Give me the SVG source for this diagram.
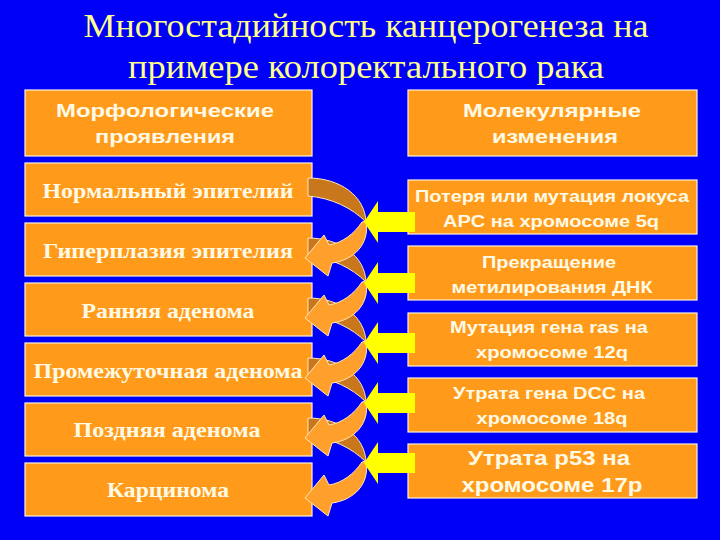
<svg xmlns="http://www.w3.org/2000/svg" width="720" height="540" viewBox="0 0 720 540">
<style>
.bg{fill:#0000F8}
.box{fill:#FF9A1A;stroke:#FFF2D6;stroke-width:1.2}
.title{font-family:"Liberation Serif","Times New Roman",serif;font-size:34px;fill:#FFFF8C;text-anchor:middle}
.ser{font-family:"Liberation Serif","Times New Roman",serif;font-weight:bold;font-size:21px;fill:#FFFAE6;text-anchor:middle}
.hdr{font-family:"Liberation Sans",Arial,sans-serif;font-weight:bold;font-size:19px;fill:#FFFAE6;text-anchor:middle}
.san{font-family:"Liberation Sans",Arial,sans-serif;font-weight:bold;font-size:16px;fill:#FFFAE6;text-anchor:middle}
.big{font-family:"Liberation Sans",Arial,sans-serif;font-weight:bold;font-size:20px;fill:#FFFAE6;text-anchor:middle}
.dark{fill:#C9771C;stroke:#FFE6B8;stroke-width:1}
.light{fill:#FF9F2C;stroke:#FFE6B8;stroke-width:1}
.yel{fill:#FFFF00}
</style>
<defs>
<g id="curveBack">
<path class="dark" d="M 308,-44 C 340,-44 365,-26 366,0 C 352,-14 332,-24 308,-26 Z"/>
</g>
<g id="curveFront">
<path class="light" d="M 366,-1 C 370,22 354,38 332,41 L 328,54 L 305,36 L 324,13 L 329,23 C 342,21 354,12 362,0 Z"/>
</g>
<polygon id="yarrow" class="yel" points="364,0 378,-21 378,-10 415,-10 415,10 378,10 378,21"/>
</defs>
<rect class="bg" x="0" y="0" width="720" height="540"/>
<g id="title">
<text class="title" x="366" y="37" textLength="565" lengthAdjust="spacingAndGlyphs">Многостадийность канцерогенеза на</text>
<text class="title" x="366" y="78" textLength="476" lengthAdjust="spacingAndGlyphs">примере колоректального рака</text>
</g>
<g id="morph-header">
<rect class="box" x="25" y="90" width="287" height="66"/>
<text class="hdr" x="165" y="117" textLength="218" lengthAdjust="spacingAndGlyphs">Морфологические</text>
<text class="hdr" x="165" y="143" textLength="140" lengthAdjust="spacingAndGlyphs">проявления</text>
</g>
<g id="normal">
<rect class="box" x="25" y="163" width="287" height="53"/>
<text class="ser" x="168" y="198" textLength="251" lengthAdjust="spacingAndGlyphs">Нормальный эпителий</text>
</g>
<g id="hyperplasia">
<rect class="box" x="25" y="223" width="287" height="53"/>
<text class="ser" x="168" y="258" textLength="250" lengthAdjust="spacingAndGlyphs">Гиперплазия эпителия</text>
</g>
<g id="early">
<rect class="box" x="25" y="283" width="287" height="53"/>
<text class="ser" x="168" y="318" textLength="173" lengthAdjust="spacingAndGlyphs">Ранняя аденома</text>
</g>
<g id="intermediate">
<rect class="box" x="25" y="343" width="287" height="53"/>
<text class="ser" x="168" y="378" textLength="269" lengthAdjust="spacingAndGlyphs">Промежуточная аденома</text>
</g>
<g id="late">
<rect class="box" x="25" y="403" width="287" height="53"/>
<text class="ser" x="167" y="437" textLength="187" lengthAdjust="spacingAndGlyphs">Поздняя аденома</text>
</g>
<g id="carcinoma">
<rect class="box" x="25" y="463" width="287" height="53"/>
<text class="ser" x="168" y="497" textLength="122" lengthAdjust="spacingAndGlyphs">Карцинома</text>
</g>
<g id="mol-header">
<rect class="box" x="408" y="90" width="289" height="66"/>
<text class="hdr" x="552" y="117" textLength="178" lengthAdjust="spacingAndGlyphs">Молекулярные</text>
<text class="hdr" x="555" y="143" textLength="126" lengthAdjust="spacingAndGlyphs">изменения</text>
</g>
<g id="apc">
<rect class="box" x="408" y="180" width="289" height="54"/>
<text class="san" x="552" y="202" textLength="274" lengthAdjust="spacingAndGlyphs">Потеря или мутация локуса</text>
<text class="san" x="551" y="227" textLength="216" lengthAdjust="spacingAndGlyphs">APC на хромосоме 5q</text>
</g>
<g id="methyl">
<rect class="box" x="408" y="246" width="289" height="54"/>
<text class="san" x="549" y="268" textLength="134" lengthAdjust="spacingAndGlyphs">Прекращение</text>
<text class="san" x="552" y="293" textLength="201" lengthAdjust="spacingAndGlyphs">метилирования ДНК</text>
</g>
<g id="ras">
<rect class="box" x="408" y="313" width="289" height="53"/>
<text class="san" x="549" y="333" textLength="198" lengthAdjust="spacingAndGlyphs">Мутация гена ras на</text>
<text class="san" x="552" y="358" textLength="152" lengthAdjust="spacingAndGlyphs">хромосоме 12q</text>
</g>
<g id="dcc">
<rect class="box" x="408" y="378" width="289" height="54"/>
<text class="san" x="549" y="399" textLength="192" lengthAdjust="spacingAndGlyphs">Утрата гена DCC на</text>
<text class="san" x="552" y="424" textLength="151" lengthAdjust="spacingAndGlyphs">хромосоме 18q</text>
</g>
<g id="p53">
<rect class="box" x="408" y="444" width="289" height="54"/>
<text class="big" x="549" y="465" textLength="162" lengthAdjust="spacingAndGlyphs">Утрата p53 на</text>
<text class="big" x="552" y="492" textLength="181" lengthAdjust="spacingAndGlyphs">хромосоме 17p</text>
</g>
<g id="connectors">
<use href="#curveBack" y="462"/>
<use href="#curveBack" y="402"/>
<use href="#curveBack" y="342"/>
<use href="#curveBack" y="282"/>
<use href="#curveBack" y="222"/>
<use href="#curveFront" y="462"/>
<use href="#curveFront" y="402"/>
<use href="#curveFront" y="342"/>
<use href="#curveFront" y="282"/>
<use href="#curveFront" y="222"/>
<use href="#yarrow" y="222"/>
<use href="#yarrow" y="283"/>
<use href="#yarrow" y="343"/>
<use href="#yarrow" y="403"/>
<use href="#yarrow" y="463"/>
</g>
</svg>
